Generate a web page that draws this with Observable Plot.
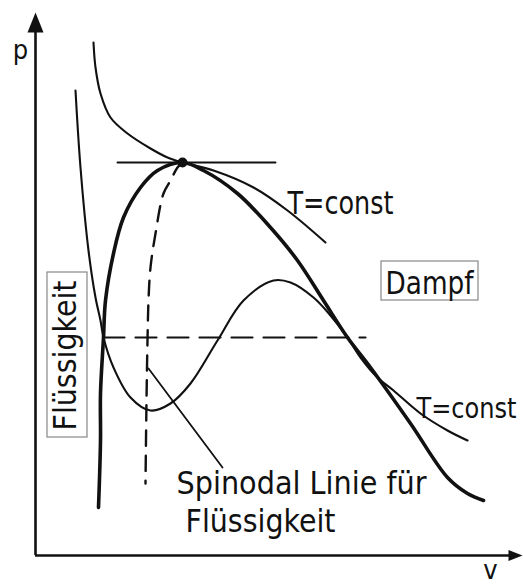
<!DOCTYPE html>
<html><head><meta charset="utf-8">
<script src="https://cdn.jsdelivr.net/npm/d3@7"></script>
<script src="https://cdn.jsdelivr.net/npm/@observablehq/plot@0.6"></script>
<style>body{margin:0;background:#fff}svg{display:block}</style>
</head><body><div id="chart"></div>
<script>
// schematic p–v diagram, values in arbitrary units (v, p)
const vMax = 487, pMax = 543;
const binodal = [[63,48],[65,115],[65,162],[68,218],[70,255],[78,302],[88,338],[105,368],[122,385],[147,393],[168,385],[202,362],[235,328],[262,295],[288,255],[312,218],[335,188],[375,132],[412,78],[432,62],[448,55]];
const critIsotherm = [[58,513],[60,488],[65,462],[75,438],[92,422],[115,407],[132,398],[147,393],[178,385],[218,368],[252,345],[290,313]];
const subIsotherm = [[40,465],[45,388],[53,305],[60,258],[65,235],[68,218],[78,188],[95,158],[115,145],[135,152],[155,172],[182,215],[208,255],[238,275],[255,273],[278,258],[295,240],[312,218],[325,198],[342,178],[358,165],[385,142],[412,125],[432,115]];
const spinodal = [[147,393],[142,388],[135,375],[128,362],[120,322],[115,288],[113,255],[112,215],[111,155],[110,72]];
const tieLine = [[68,218],[330,218]];
const tangent = [[82,393],[240,393]];
const pointer = [[113,187],[187,88]];
const critPoint = [[147,393]];
const labels = [
  {text:"T=const", v:252, p:342},
  {text:"Dampf", v:350, p:262},
  {text:"Spinodal Linie für", v:141, p:62},
  {text:"Flüssigkeit", v:150, p:24}
];
const edgeLabel = [{text:"T=const", v:381, p:138}];
const sideLabel = [{text:"Flüssigkeit", v:40, p:125}];
const axisLabels = [{text:"p", v:-15, p:497},{text:"v", v:455, p:-23}];
const boxes = [{v1:346, v2:443, p1:255, p2:294},{v1:12, v2:52, p1:118, p2:283}];

// layout: target widths for the labels
const labelWidths = [106, 88, 250, 150];
const edgeWidth = 100;
const sideWidth = 150;

const arrowHead = {draw(ctx, size){const r=Math.sqrt(size/Math.PI);ctx.moveTo(0,-r);ctx.lineTo(0.8*r,r);ctx.lineTo(-0.8*r,r);ctx.closePath();}};
const X = d => d[0], Y = d => d[1];
const font = "'DejaVu Sans Condensed', 'DejaVu Sans', sans-serif";

const chart = Plot.plot({
  width: 523, height: 587,
  marginLeft: 35, marginRight: 1, marginTop: 12, marginBottom: 32,
  x: {domain: [0, vMax], axis: null},
  y: {domain: [0, pMax], axis: null},
  style: {background: "#fff"},
  marks: [
    Plot.ruleX([0], {y1: 0, y2: pMax - 18, strokeWidth: 2.6, stroke: "#111"}),
    Plot.ruleY([0], {x1: 0, x2: vMax - 12, strokeWidth: 2.6, stroke: "#111"}),
    Plot.dot([[0, pMax - 10]], {x: X, y: Y, symbol: arrowHead, r: 10, fill: "#111", stroke: null}),
    Plot.dot([[vMax - 7, 0]], {x: X, y: Y, symbol: arrowHead, r: 7, rotate: 90, fill: "#111", stroke: null}),
    Plot.rect(boxes, {x1: "v1", x2: "v2", y1: "p1", y2: "p2", fill: "none", stroke: "#888", strokeWidth: 1.2}),
    Plot.line(tieLine, {x: X, y: Y, stroke: "#111", strokeWidth: 2.2, strokeDasharray: "21,11"}),
    Plot.line(spinodal, {x: X, y: Y, curve: "catmull-rom", stroke: "#111", strokeWidth: 2.4, strokeDasharray: "15,10"}),
    Plot.line(tangent, {x: X, y: Y, stroke: "#111", strokeWidth: 2}),
    Plot.line(pointer, {x: X, y: Y, stroke: "#111", strokeWidth: 1.8}),
    Plot.line(critIsotherm, {x: X, y: Y, curve: "catmull-rom", stroke: "#111", strokeWidth: 2.1}),
    Plot.line(subIsotherm, {x: X, y: Y, curve: "catmull-rom", stroke: "#111", strokeWidth: 2.1}),
    Plot.line(binodal, {x: X, y: Y, curve: "catmull-rom", stroke: "#111", strokeWidth: 3.6}),
    Plot.dot(critPoint, {x: X, y: Y, r: 5, fill: "#111", stroke: null}),
    Plot.text(labels, {x: "v", y: "p", text: "text", textAnchor: "start", lineAnchor: "bottom", fontSize: 32, fontFamily: font, fill: "#111", className: "lbl"}),
    Plot.text(edgeLabel, {x: "v", y: "p", text: "text", textAnchor: "start", lineAnchor: "bottom", fontSize: 28, fontFamily: font, fill: "#111", className: "edge"}),
    Plot.text(sideLabel, {x: "v", y: "p", text: "text", textAnchor: "start", lineAnchor: "bottom", rotate: -90, fontSize: 32, fontFamily: font, fill: "#111", className: "side"}),
    Plot.text(axisLabels, {x: "v", y: "p", text: "text", textAnchor: "middle", lineAnchor: "bottom", fontSize: 27, fontFamily: font, fill: "#111"})
  ]
});
chart.querySelectorAll(".lbl text").forEach((t, i) => {t.setAttribute("textLength", labelWidths[i]); t.setAttribute("lengthAdjust", "spacingAndGlyphs");});
chart.querySelectorAll(".edge text").forEach(t => {t.setAttribute("textLength", edgeWidth); t.setAttribute("lengthAdjust", "spacingAndGlyphs");});
chart.querySelectorAll(".side text").forEach(t => {t.setAttribute("textLength", sideWidth); t.setAttribute("lengthAdjust", "spacingAndGlyphs");});
document.getElementById("chart").append(chart);
</script></body></html>
